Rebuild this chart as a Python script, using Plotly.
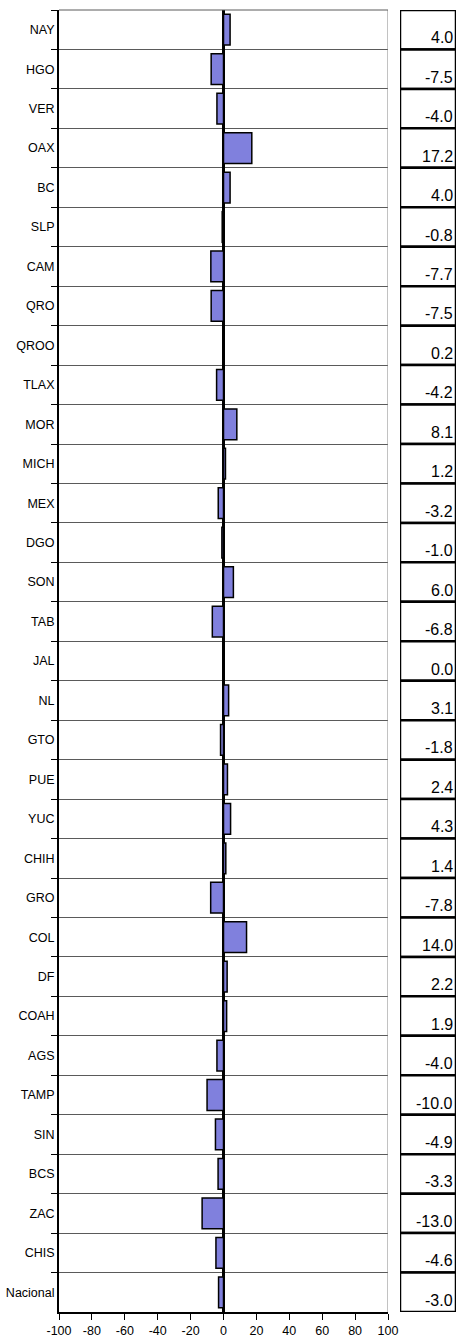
import plotly.graph_objects as go

categories = ["NAY", "HGO", "VER", "OAX", "BC", "SLP", "CAM", "QRO", "QROO", "TLAX",
              "MOR", "MICH", "MEX", "DGO", "SON", "TAB", "JAL", "NL", "GTO", "PUE",
              "YUC", "CHIH", "GRO", "COL", "DF", "COAH", "AGS", "TAMP", "SIN", "BCS",
              "ZAC", "CHIS", "Nacional"]
values = [4.0, -7.5, -4.0, 17.2, 4.0, -0.8, -7.7, -7.5, 0.2, -4.2,
          8.1, 1.2, -3.2, -1.0, 6.0, -6.8, 0.0, 3.1, -1.8, 2.4,
          4.3, 1.4, -7.8, 14.0, 2.2, 1.9, -4.0, -10.0, -4.9, -3.3,
          -13.0, -4.6, -3.0]
x_ticks = [-100, -80, -60, -40, -20, 0, 20, 40, 60, 80, 100]
x_tick_labels = ["-100", "-80", "-60", "-40", "-20", "0", "20", "40", "60", "80", "100"]

FONT = "Liberation Sans, Arial, sans-serif"

fig = go.Figure()

fig.add_trace(go.Bar(
    x=values, y=categories, orientation="h", width=0.78,
    marker=dict(color="#8080DD", line=dict(color="black", width=1.5)),
    xaxis="x", yaxis="y", hoverinfo="x+y", showlegend=False,
))

# table boxes
fig.add_trace(go.Bar(
    x=[1] * len(categories), y=categories, orientation="h", width=1,
    marker=dict(color="white", line=dict(color="black", width=2.5)),
    xaxis="x2", yaxis="y", hoverinfo="skip", showlegend=False,
))

for c, v in zip(categories, values):
    fig.add_annotation(
        x=0.985, y=c, xref="x2", yref="y", text=f"{v:.1f}",
        showarrow=False, xanchor="right", yanchor="middle", yshift=-8,
        font=dict(family=FONT, size=16, color="black"),
    )

# right and top border of plot area
fig.add_shape(type="line", xref="x", yref="y domain", x0=100, x1=100, y0=0, y1=1,
              line=dict(color="#808080", width=1))
fig.add_shape(type="line", xref="x domain", yref="y domain", x0=0, x1=1, y0=1, y1=1,
              line=dict(color="#5a5a5a", width=1))

fig.update_layout(
    width=459, height=1342,
    margin=dict(l=59, r=1, t=10, b=30),
    paper_bgcolor="white", plot_bgcolor="white",
    font=dict(family=FONT, size=13, color="black"),
    bargap=0.2,
    xaxis=dict(domain=[0, 0.8246], range=[-100, 100], tickvals=x_ticks, ticktext=x_tick_labels,
               showgrid=False, zeroline=True, zerolinecolor="black", zerolinewidth=2.5,
               showline=True, linecolor="black", linewidth=1.5,
               ticks="outside", ticklen=6, tickcolor="black", automargin=False,
               tickfont=dict(size=12.5), fixedrange=True),
    xaxis2=dict(domain=[0.8546, 0.995], range=[0, 1], visible=False, fixedrange=True),
    yaxis=dict(categoryorder="array", categoryarray=categories, autorange="reversed",
               tickson="boundaries", showgrid=True, gridcolor="#5a5a5a", gridwidth=1,
               showline=True, linecolor="black", linewidth=2,
               ticks="outside", ticklen=6, tickcolor="black", automargin=False,
               tickfont=dict(size=12.5), fixedrange=True),
)

fig.write_html("out.html", config={"displayModeBar": False},
               post_script="document.body.style.margin='0';document.body.style.overflow='hidden';")
